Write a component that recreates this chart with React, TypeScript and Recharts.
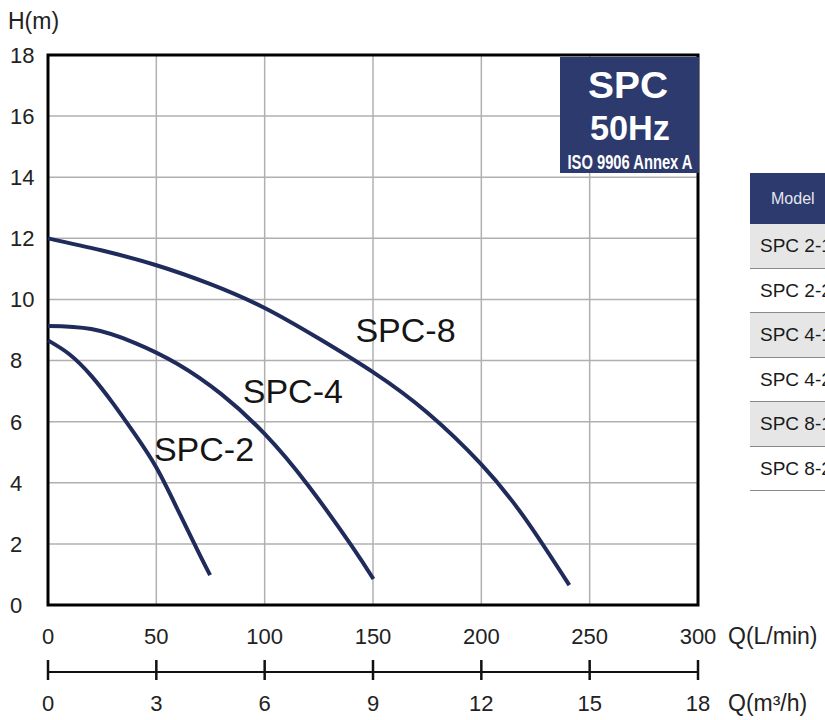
import { LineChart, Line, XAxis, YAxis, CartesianGrid, ReferenceArea, ReferenceDot } from 'recharts';

// Q in L/min, H in m
const spc2Flow = [0, 10, 20, 30, 40, 50, 60, 70, 74.8];
const spc2Head = [8.66, 8.2, 7.5, 6.6, 5.6, 4.5, 3.1, 1.65, 0.98];
const spc4Flow = [0, 20, 40, 60, 80, 100, 120, 140, 150.2];
const spc4Head = [9.13, 9.03, 8.58, 7.88, 6.9, 5.6, 3.92, 1.95, 0.85];
const spc8Flow = [0, 25, 50, 75, 100, 125, 150, 175, 200, 220, 240.6];
const spc8Head = [12.0, 11.6, 11.12, 10.5, 9.72, 8.72, 7.62, 6.3, 4.6, 2.85, 0.65];

const lpmTicks = [0, 50, 100, 150, 200, 250, 300];
const m3hTicks = [0, 3, 6, 9, 12, 15, 18];
const headTicks = [0, 2, 4, 6, 8, 10, 12, 14, 16, 18];
const models = ['SPC 2-1', 'SPC 2-2', 'SPC 4-1', 'SPC 4-2', 'SPC 8-1', 'SPC 8-2'];

const FONT = '"Liberation Sans", Arial, Helvetica, sans-serif';
const NAVY = '#2c3a6e';
const CURVE = '#1f2b5b';

const toPoints = (flow: number[], head: number[]) => flow.map((q, i) => ({ q, h: head[i] }));

function HeadTick({ y, payload }: any) {
  return (
    <text x={10} y={y} dy="0.36em" fontSize={22} fontFamily={FONT} fill="#222" textAnchor="start">
      {payload.value}
    </text>
  );
}

// L/min label plus the matching m3/h tick on the scale below (same positions)
function FlowTick({ x, y, payload, index }: any) {
  return (
    <g>
      <text x={x} y={y + 31} dy="0.36em" fontSize={22} fontFamily={FONT} fill="#222" textAnchor="middle">
        {payload.value}
      </text>
      <line x1={x} x2={x} y1={y + 55} y2={y + 75} stroke="#111" strokeWidth={2.5} />
      <text x={x} y={y + 98} dy="0.36em" fontSize={22} fontFamily={FONT} fill="#222" textAnchor="middle">
        {m3hTicks[index]}
      </text>
    </g>
  );
}

function unitLabel(text: string, dy: number) {
  return (props: any) => {
    const vb = props.viewBox;
    return (
      <text x={vb.x + vb.width + 30} y={vb.y + vb.height / 2 + dy} dy="0.36em" fontSize={23} fontFamily={FONT} fill="#222">
        {text}
      </text>
    );
  };
}

const curveLabel = (value: string) => ({ value, position: 'center' as const, fontSize: 34, fill: '#151515', fontFamily: FONT });

export default function App() {
  return (
    <div style={{ position: 'absolute', left: 0, top: 0, width: 825, height: 720, overflow: 'hidden', background: '#fff' }}>
      <LineChart width={825} height={720} margin={{ top: 55, right: 127, bottom: 0, left: 0 }}>
        <CartesianGrid stroke="#b0b0b0" strokeWidth={1.5} />
        <XAxis
          dataKey="q"
          type="number"
          domain={[0, 300]}
          ticks={lpmTicks}
          height={67}
          axisLine={false}
          tickLine={false}
          tickSize={0}
          tickMargin={0}
          tick={<FlowTick />}
          label={{ content: unitLabel('Q(L/min)', -3) }}
        />
        <XAxis
          xAxisId="m3"
          type="number"
          domain={[0, 18]}
          height={48}
          axisLine={{ stroke: '#111', strokeWidth: 2 }}
          tickLine={false}
          tick={false}
          label={{ content: unitLabel('Q(m³/h)', 7) }}
        />
        <YAxis
          type="number"
          domain={[0, 18]}
          ticks={headTicks}
          width={48}
          axisLine={false}
          tickLine={false}
          tick={<HeadTick />}
        />
        <ReferenceArea x1={0} x2={300} y1={0} y2={18} fill="none" stroke="#000" strokeWidth={3} fillOpacity={0} ifOverflow="visible" />
        <Line data={toPoints(spc2Flow, spc2Head)} dataKey="h" type="natural" stroke={CURVE} strokeWidth={4} dot={false} isAnimationActive={false} />
        <Line data={toPoints(spc4Flow, spc4Head)} dataKey="h" type="natural" stroke={CURVE} strokeWidth={4} dot={false} isAnimationActive={false} />
        <Line data={toPoints(spc8Flow, spc8Head)} dataKey="h" type="natural" stroke={CURVE} strokeWidth={4} dot={false} isAnimationActive={false} />
        <ReferenceDot x={165} y={9.0} r={0} fill="none" stroke="none" label={curveLabel('SPC-8')} />
        <ReferenceDot x={113} y={7.0} r={0} fill="none" stroke="none" label={curveLabel('SPC-4')} />
        <ReferenceDot x={72} y={5.1} r={0} fill="none" stroke="none" label={curveLabel('SPC-2')} />
      </LineChart>

      <div style={{ position: 'absolute', left: 8, top: 8, fontFamily: FONT, fontSize: 23, color: '#222' }}>H(m)</div>

      <svg width={140} height={116} style={{ position: 'absolute', left: 559, top: 57 }}>
        <rect x={1} y={0} width={139} height={116} fill={NAVY} />
        <text x={69} y={41} textAnchor="middle" fontFamily={FONT} fontWeight="bold" fontSize={37} fill="#fff" textLength={80} lengthAdjust="spacingAndGlyphs">SPC</text>
        <text x={71} y={83} textAnchor="middle" fontFamily={FONT} fontWeight="bold" fontSize={35} fill="#fff" textLength={80} lengthAdjust="spacingAndGlyphs">50Hz</text>
        <text x={71} y={112} textAnchor="middle" fontFamily={FONT} fontWeight="bold" fontSize={20} fill="#fff" textLength={125} lengthAdjust="spacingAndGlyphs">ISO 9906 Annex A</text>
      </svg>

      <div style={{ position: 'absolute', left: 750, top: 173, width: 120, fontFamily: FONT }}>
        <div style={{ height: 51, background: NAVY, color: '#e4e6ee', fontSize: 16, lineHeight: '51px', paddingLeft: 21 }}>Model</div>
        {models.map((m, i) => (
          <div
            key={m}
            style={{
              height: 43.5,
              lineHeight: '43.5px',
              background: i % 2 === 0 ? '#e6e6e6' : '#fff',
              borderBottom: '1.5px solid #8a8a8a',
              fontSize: 19,
              color: '#1a1a1a',
              paddingLeft: 10,
              whiteSpace: 'nowrap',
            }}
          >
            {m}
          </div>
        ))}
      </div>
    </div>
  );
}
